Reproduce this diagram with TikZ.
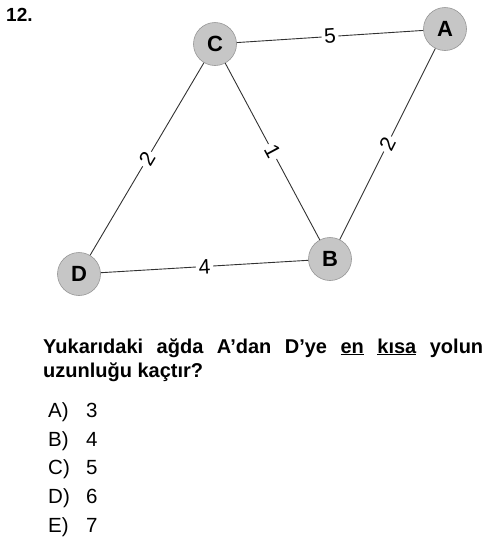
\documentclass[tikz,border=0pt]{standalone}
\usepackage{fontspec}
\setmainfont{Liberation Sans}
\definecolor{nodegray}{RGB}{198,198,198}
\definecolor{nodeborder}{RGB}{150,150,150}
\definecolor{edgegray}{RGB}{50,50,50}
\begin{document}
\begin{tikzpicture}[x=1pt,y=-1pt,
  vtx/.style={circle, fill=nodegray, draw=nodeborder, line width=0.6pt, minimum size=43pt, inner sep=0pt, font=\fontsize{22}{22}\selectfont\bfseries},
  edge/.style={draw=edgegray, line width=0.9pt},
  wlabel/.style={fill=white, inner sep=2.5pt, sloped, font=\fontsize{21}{21}\selectfont},
  txt/.style={anchor=base west, inner sep=0pt, font=\fontsize{20.5}{20.5}\selectfont},
  btxt/.style={txt, font=\fontsize{20}{20}\selectfont\bfseries}]
\useasboundingbox (0,0) rectangle (500,539);
\node[btxt, font=\fontsize{19}{19}\selectfont\bfseries] (num) at (6,21) {12.};
\node[vtx] (C) at (215,44) {C};
\node[vtx] (A) at (445,29) {A};
\node[vtx] (D) at (79,274) {D};
\node[vtx] (B) at (330,259) {B};
\draw[edge] (C) -- node[wlabel] {5} (A);
\draw[edge] (D) -- node[wlabel] {2} (C);
\draw[edge] (C) -- node[wlabel] {1} (B);
\draw[edge] (B) -- node[wlabel] {2} (A);
\draw[edge] (D) -- node[wlabel] {4} (B);
\node[btxt] (q1) at (43,353) {\makebox[440pt][s]{Yukarıdaki ağda A’dan D’ye \underline{en} \underline{kısa} yolun}};
\node[btxt] (q2) at (43,377) {uzunluğu kaçtır?};
\node[txt] (oa) at (48,417) {A)};
\node[txt] (va) at (86,417) {3};
\node[txt] (ob) at (48,446) {B)};
\node[txt] (vb) at (86,446) {4};
\node[txt] (oc) at (48,474) {C)};
\node[txt] (vc) at (86,474) {5};
\node[txt] (od) at (48,503) {D)};
\node[txt] (vd) at (86,503) {6};
\node[txt] (oe) at (48,532) {E)};
\node[txt] (ve) at (86,532) {7};
\end{tikzpicture}
\end{document}
